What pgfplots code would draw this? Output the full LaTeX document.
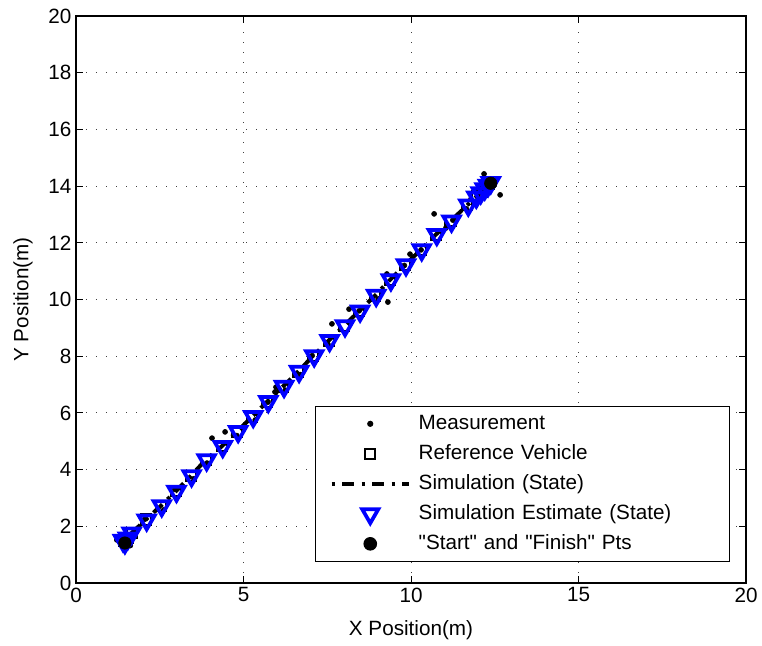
\documentclass[border=0pt]{standalone}
\usepackage{fontspec}
\setmainfont{Liberation Sans}
\newfontfamily\plainquotes{Liberation Sans}
\usepackage{pgfplots}
\pgfplotsset{compat=1.18}
\newcommand{\chartfont}{\fontsize{15.5}{18}\selectfont}
\begin{document}
\begin{tikzpicture}
\begin{axis}[
  name=ax,
  scale only axis, width=502.5pt, height=425.25pt,
  xmin=0, xmax=20, ymin=0, ymax=20,
  xtick={0,5,...,20}, ytick={0,2,...,20},
  tick align=inside, major tick length=5pt,
  axis line style={line width=0.8pt},
  every tick/.style={black, line width=0.6pt},
  grid=major,
  major grid style={black!75, line width=0.6pt, dash pattern=on 0.6pt off 6.9pt},
  /pgf/number format/assume math mode=true,
  tick label style={font=\chartfont},
  label style={font=\chartfont},
  xlabel={X Position(m)}, ylabel={Y Position(m)},
  xlabel style={at={(axis description cs:0.5,-0.083)}, anchor=center},
  ylabel style={at={(axis description cs:-0.079,0.5)}, anchor=center},
  legend style={at={(0.976,0.037)}, anchor=south east, draw=black, line width=0.8pt,
    font=\chartfont, inner xsep=11pt, inner ysep=2pt, row sep=0pt, column sep=6pt,
    nodes={inner xsep=0pt, inner ysep=3.75pt, text height=11.5pt, text depth=3.5pt,
      text width=222pt, align=left}},
  legend cell align=left,
  legend image code/.code={\draw[mark repeat=2,mark phase=2,#1]
    plot coordinates {(0pt,0pt) (28.9pt,0pt) (57.75pt,0pt)};},
]

% measurements
\addplot[only marks, mark=*, black, mark size=1.9pt] coordinates {
  (1.22,1.52) (1.62,1.32) (2.05,2.25) (2.62,2.58) (2.95,3.30) (3.52,3.68)
  (3.91,4.23) (4.06,5.11) (4.45,5.33) (4.80,5.20) (5.35,5.75) (5.73,6.38)
  (5.94,6.74) (5.97,6.91) (6.25,6.80) (6.70,7.35) (7.05,8.02) (7.52,8.42)
  (7.64,9.14) (8.15,9.66) (8.45,9.60) (9.02,10.02) (9.31,9.91) (9.28,10.90)
  (9.80,11.20) (9.97,11.60) (10.30,11.75) (10.69,13.02) (11.04,12.52)
  (11.25,12.80) (11.65,13.20) (11.79,13.54) (12.30,13.90) (12.18,14.43)
  (12.66,13.69)};
\addlegendentry{Measurement}

% reference vehicle
\addplot[only marks, mark=square, black, mark size=3.8pt,
  mark options={line width=1.5pt, fill=none}] coordinates {
  (1.43,1.50) (1.54,1.60) (1.66,1.76) (2.09,2.24) (2.54,2.73) (2.98,3.24)
  (3.43,3.78) (3.87,4.34) (4.35,4.82) (4.81,5.34) (5.26,5.87) (5.71,6.40)
  (6.18,6.93) (6.63,7.46) (7.08,8.01) (7.54,8.55) (8.00,9.07) (8.45,9.59)
  (8.93,10.14) (9.37,10.69) (9.82,11.22) (10.29,11.75) (10.74,12.29)
  (11.18,12.76) (11.68,13.33) (11.98,13.66) (12.11,13.80) (12.24,13.94)
  (12.34,14.08)};
\addlegendentry{Reference Vehicle}

% simulation state
\addplot[black, line width=3pt, no marks,
  dash pattern=on 2.5pt off 5.5pt on 9pt off 5.5pt] coordinates {
  (1.43,1.50) (1.54,1.60) (1.66,1.76) (2.09,2.24) (2.54,2.73) (2.98,3.24)
  (3.43,3.78) (3.87,4.34) (4.35,4.82) (4.81,5.34) (5.26,5.87) (5.71,6.40)
  (6.18,6.93) (6.63,7.46) (7.08,8.01) (7.54,8.55) (8.00,9.07) (8.45,9.59)
  (8.93,10.14) (9.37,10.69) (9.82,11.22) (10.29,11.75) (10.74,12.29)
  (11.18,12.76) (11.68,13.33) (11.98,13.66) (12.11,13.80) (12.24,13.94)
  (12.34,14.08)};
\addlegendentry{Simulation (State)}

% simulation estimate
\addplot[only marks, mark=triangle, blue, mark size=7pt,
  mark options={rotate=180, line width=2.8pt, fill=none, solid}] coordinates {
  (1.40,1.50) (1.46,1.42) (1.55,1.58) (1.66,1.76) (2.11,2.22) (2.56,2.72)
  (3.00,3.23) (3.45,3.78) (3.90,4.34) (4.38,4.81) (4.84,5.34) (5.29,5.87)
  (5.74,6.40) (6.21,6.93) (6.66,7.46) (7.11,8.01) (7.57,8.55) (8.03,9.07)
  (8.48,9.59) (8.96,10.14) (9.40,10.69) (9.85,11.22) (10.32,11.75)
  (10.77,12.29) (11.21,12.76) (11.71,13.33) (11.95,13.61) (12.08,13.76)
  (12.20,13.90) (12.30,14.02) (12.38,14.12)};
\addlegendentry{Simulation Estimate (State)}

% start and finish
\addplot[only marks, mark=*, black, mark size=4.7pt] coordinates {
  (1.46,1.41) (12.38,14.10)};
\addlegendentry{{\plainquotes "Start" and "Finish" Pts}}

\end{axis}
\pgfresetboundingbox
\path ([shift={(-57pt,-46.5pt)}]ax.south west) rectangle ([shift={(12pt,12pt)}]ax.north east);
\end{tikzpicture}
\end{document}
